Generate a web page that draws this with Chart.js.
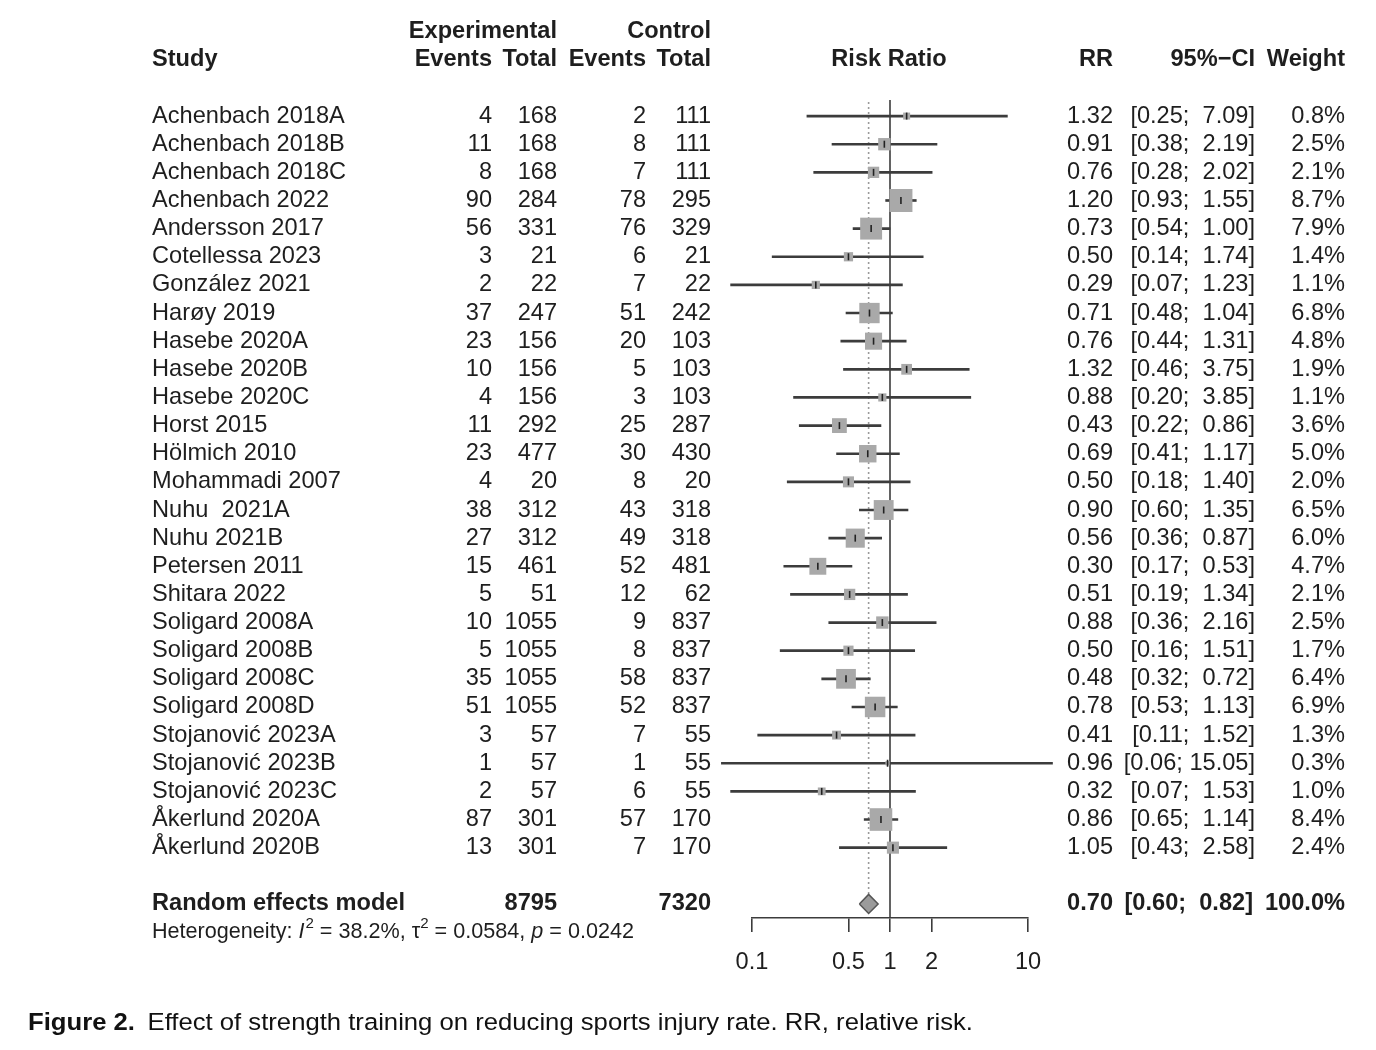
<!DOCTYPE html>
<html><head><meta charset="utf-8">
<script src="https://cdn.jsdelivr.net/npm/chart.js@4.4.1/dist/chart.umd.min.js"></script>
<style>html,body{margin:0;padding:0;background:#fff}#wrap{position:relative;width:1376px;height:1050px}</style>
</head><body><div id="wrap"><canvas id="c"></canvas></div>
<script>
const studies = ["Achenbach 2018A","Achenbach 2018B","Achenbach 2018C","Achenbach 2022","Andersson 2017","Cotellessa 2023","González 2021","Harøy 2019","Hasebe 2020A","Hasebe 2020B","Hasebe 2020C","Horst 2015","Hölmich 2010","Mohammadi 2007","Nuhu  2021A","Nuhu 2021B","Petersen 2011","Shitara 2022","Soligard 2008A","Soligard 2008B","Soligard 2008C","Soligard 2008D","Stojanović 2023A","Stojanović 2023B","Stojanović 2023C","Åkerlund 2020A","Åkerlund 2020B"];
const expEvents = [4,11,8,90,56,3,2,37,23,10,4,11,23,4,38,27,15,5,10,5,35,51,3,1,2,87,13];
const expTotal = [168,168,168,284,331,21,22,247,156,156,156,292,477,20,312,312,461,51,1055,1055,1055,1055,57,57,57,301,301];
const ctrlEvents = [2,8,7,78,76,6,7,51,20,5,3,25,30,8,43,49,52,12,9,8,58,52,7,1,6,57,7];
const ctrlTotal = [111,111,111,295,329,21,22,242,103,103,103,287,430,20,318,318,481,62,837,837,837,837,55,55,55,170,170];
const rr = [1.32,0.91,0.76,1.20,0.73,0.50,0.29,0.71,0.76,1.32,0.88,0.43,0.69,0.50,0.90,0.56,0.30,0.51,0.88,0.50,0.48,0.78,0.41,0.96,0.32,0.86,1.05];
const lower = [0.25,0.38,0.28,0.93,0.54,0.14,0.07,0.48,0.44,0.46,0.20,0.22,0.41,0.18,0.60,0.36,0.17,0.19,0.36,0.16,0.32,0.53,0.11,0.06,0.07,0.65,0.43];
const upper = [7.09,2.19,2.02,1.55,1.00,1.74,1.23,1.04,1.31,3.75,3.85,0.86,1.17,1.40,1.35,0.87,0.53,1.34,2.16,1.51,0.72,1.13,1.52,15.05,1.53,1.14,2.58];
const weight = [0.8,2.5,2.1,8.7,7.9,1.4,1.1,6.8,4.8,1.9,1.1,3.6,5.0,2.0,6.5,6.0,4.7,2.1,2.5,1.7,6.4,6.9,1.3,0.3,1.0,8.4,2.4];
const pooledLabel = "Random effects model";
const pooledExpTotal = 8795;
const pooledCtrlTotal = 7320;
const pooledRR = 0.70;
const pooledLower = 0.60;
const pooledUpper = 0.82;
const pooledWeight = 100.0;
const hetI2 = "38.2%";
const hetTau2 = "0.0584";
const hetP = "0.0242";
const xTicks = [0.1, 0.5, 1, 2, 10];
const refValue = 1;
const captionBold = "Figure 2.";
const captionText = "Effect of strength training on reducing sports injury rate. RR, relative risk.";

const n = studies.length;
const pooledRow = n + 1;
const FAM = '"Liberation Sans", Arial, Helvetica, sans-serif';
const FS = 23.6;
const TXT = '#1e1e1e';
const LINE = '#3c3c3c';
const halfH = 0.34;

const COL = {study:152, expEv:492, expTot:557, ctrlEv:646, ctrlTot:711, rr:1113, ciR:1255, w:1345, rrHead:889};

function fmtCI(lo, up) {
  return '[' + lo.toFixed(2) + '; ' + up.toFixed(2).padStart(5, ' ') + ']';
}

const textPlugin = {
  id: 'forestText',
  afterDraw(chart) {
    const ctx = chart.ctx, ys = chart.scales.y;
    const row = v => ys.getPixelForValue(v);
    const reg = `${FS}px ${FAM}`, bold = `bold ${FS}px ${FAM}`;
    ctx.save();
    ctx.fillStyle = TXT;
    ctx.textBaseline = 'middle';
    const t = (s, x, y, al, f) => { ctx.font = f; ctx.textAlign = al; ctx.fillText(s, x, y); };
    const h1 = row(-3), h2 = row(-2);
    t('Experimental', COL.expTot, h1, 'right', bold);
    t('Control', COL.ctrlTot, h1, 'right', bold);
    t('Study', COL.study, h2, 'left', bold);
    t('Events', COL.expEv, h2, 'right', bold);
    t('Total', COL.expTot, h2, 'right', bold);
    t('Events', COL.ctrlEv, h2, 'right', bold);
    t('Total', COL.ctrlTot, h2, 'right', bold);
    t('Risk Ratio', COL.rrHead, h2, 'center', bold);
    t('RR', COL.rr, h2, 'right', bold);
    t('95%\u2212CI', COL.ciR, h2, 'right', bold);
    t('Weight', COL.w, h2, 'right', bold);
    for (let i = 0; i < n; i++) {
      const y = row(i);
      t(studies[i], COL.study, y, 'left', reg);
      t(String(expEvents[i]), COL.expEv, y, 'right', reg);
      t(String(expTotal[i]), COL.expTot, y, 'right', reg);
      t(String(ctrlEvents[i]), COL.ctrlEv, y, 'right', reg);
      t(String(ctrlTotal[i]), COL.ctrlTot, y, 'right', reg);
      t(rr[i].toFixed(2), COL.rr, y, 'right', reg);
      t(fmtCI(lower[i], upper[i]), COL.ciR, y, 'right', reg);
      t(weight[i].toFixed(1) + '%', COL.w, y, 'right', reg);
    }
    const yp = row(pooledRow);
    t(pooledLabel, COL.study, yp, 'left', bold);
    t(String(pooledExpTotal), COL.expTot, yp, 'right', bold);
    t(String(pooledCtrlTotal), COL.ctrlTot, yp, 'right', bold);
    t(pooledRR.toFixed(2), COL.rr, yp, 'right', bold);
    t(fmtCI(pooledLower, pooledUpper), COL.ciR - 2, yp, 'right', bold);
    t(pooledWeight.toFixed(1) + '%', COL.w, yp, 'right', bold);
    // heterogeneity
    const yh = row(pooledRow + 1);
    const hs = 21.6;
    let x = COL.study;
    ctx.textAlign = 'left';
    const seg = (s, f, dy) => { ctx.font = f; ctx.fillText(s, x, yh + (dy || 0)); x += ctx.measureText(s).width; };
    const hr = `${hs}px ${FAM}`, hi = `italic ${hs}px ${FAM}`, hsup = `${hs*0.7}px ${FAM}`;
    seg('Heterogeneity: ', hr);
    seg('I', hi); x += 1;
    seg('2', hsup, -8);
    seg(' = ' + hetI2 + ', \u03c4', hr);
    seg('2', hsup, -8);
    seg(' = ' + hetTau2 + ', ', hr);
    seg('p', hi);
    seg(' = ' + hetP, hr);
    // caption
    const cs = 24.5;
    const cb = `bold ${cs}px ${FAM}`, cr = `${cs}px ${FAM}`;
    ctx.font = cb; const wb = ctx.measureText(captionBold).width;
    ctx.font = cr; const wr = ctx.measureText(captionText).width;
    const target = 973 - 28, gap = 12;
    const sx = target / (wb + gap + wr);
    ctx.save();
    ctx.translate(28, 1023);
    ctx.scale(sx, 1);
    ctx.fillStyle = '#111';
    ctx.font = cb; ctx.fillText(captionBold, 0, 0);
    ctx.font = cr; ctx.fillText(captionText, wb + gap, 0);
    ctx.restore();
    ctx.restore();
  }
};

const ciData = studies.map((s, i) => ({x: [lower[i], upper[i]], y: i}));
const ptData = studies.map((s, i) => ({x: rr[i], y: i}));
const diamond = [
  {x: pooledLower, y: pooledRow}, {x: pooledRR, y: pooledRow - halfH},
  {x: pooledUpper, y: pooledRow}, {x: pooledRR, y: pooledRow + halfH},
  {x: pooledLower, y: pooledRow}
];

new Chart(document.getElementById('c'), {
  type: 'bar',
  data: {
    datasets: [
      {type:'scatter', label:'ref', data:[{x:refValue,y:-0.57},{x:refValue,y:pooledRow+0.5}], showLine:true, borderColor:LINE, borderWidth:1.6, pointRadius:0, clip:false, order:6},
      {type:'scatter', label:'pooled', data:[{x:pooledRR,y:-0.5},{x:pooledRR,y:pooledRow-halfH}], showLine:true, borderColor:'#9a9a9a', borderWidth:1.6, borderDash:[2,3], pointRadius:0, clip:false, order:5},
      {type:'bar', label:'CI', indexAxis:'y', data:ciData, backgroundColor:LINE, borderWidth:0, barThickness:2, clip:false, order:4},
      {type:'scatter', label:'weight', data:ptData, pointStyle:'rect', pointRadius:weight.map(w => 7.8*Math.sqrt(w)/Math.SQRT2), backgroundColor:'#a9a9a9', borderWidth:0, clip:false, order:3},
      {type:'scatter', label:'est', data:ptData, pointStyle:'line', rotation:90, pointRadius:3.5, borderColor:'#222', borderWidth:1.6, clip:false, order:2},
      {type:'scatter', label:'diamond', data:diamond, showLine:true, fill:'shape', backgroundColor:'#9b9b9b', borderColor:'#555', borderWidth:1.5, pointRadius:0, tension:0, clip:false, order:1}
    ]
  },
  options: {
    responsive: true, maintainAspectRatio: false, animation: false, events: [],
    layout: {padding: {left: 752, right: 348, top: 102, bottom: 72}},
    plugins: {legend: {display: false}, tooltip: {enabled: false}, title: {display: false}},
    scales: {
      x: {type: 'logarithmic', min: 0.1, max: 10, offset: false,
        afterBuildTicks: s => { s.ticks = xTicks.map(v => ({value: v})); },
        afterFit: s => { s.height = 60; },
        ticks: {callback: v => String(v), font: {family: 'Liberation Sans', size: FS}, color: TXT, padding: 16, maxRotation: 0, autoSkip: false},
        grid: {display: true, offset: false, drawOnChartArea: false, drawTicks: true, tickLength: 14, color: LINE, lineWidth: 1.6},
        border: {display: true, color: LINE, width: 1.6}
      },
      y: {type: 'linear', display: false, reverse: true, min: -0.5, max: pooledRow + 0.5, offset: false, grid: {offset: false}}
    }
  },
  plugins: [textPlugin]
});
</script>
</body></html>
